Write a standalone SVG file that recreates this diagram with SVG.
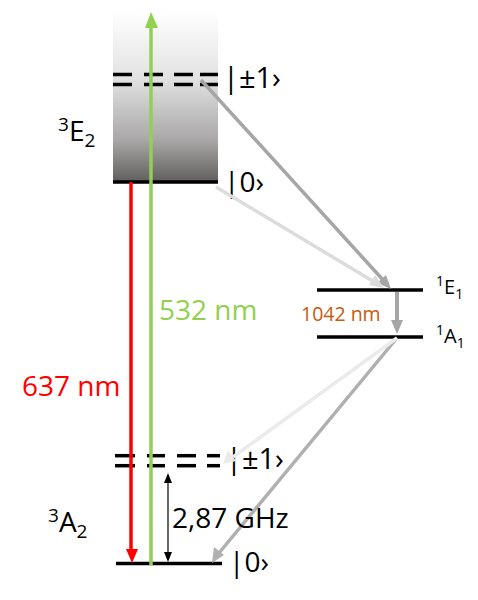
<svg xmlns="http://www.w3.org/2000/svg" width="478" height="600" viewBox="0 0 478 600">
<style>
text{font-family:"Open Sans","Liberation Sans",sans-serif;fill:#000}
.lvl{stroke:#000;stroke-width:3.5;fill:none}
.dash{stroke:#000;stroke-width:3.5}
.lbl{font-size:28px}
.big{font-size:28px}
</style>
<defs>
<linearGradient id="g" x1="0" y1="0" x2="0" y2="1">
<stop offset="0" stop-color="#ffffff"/>
<stop offset="0.4" stop-color="#e2e2e2"/>
<stop offset="0.75" stop-color="#aaa8a8"/>
<stop offset="1" stop-color="#625e5e"/>
</linearGradient>
</defs>
<rect x="113" y="10" width="105" height="172" fill="url(#g)"/>
<g id="E2-zero"><line class="lvl" x1="113" y1="182" x2="218" y2="182"/><text x="224" y="192" class="lbl">|0›</text></g>
<g id="E2-pm1">
<g class="dash"><line x1="113" y1="74.5" x2="132" y2="74.5"/><line x1="144" y1="74.5" x2="163" y2="74.5"/><line x1="174" y1="74.5" x2="193" y2="74.5"/><line x1="200" y1="74.5" x2="218" y2="74.5"/>
<line x1="113" y1="84.5" x2="132" y2="84.5"/><line x1="144" y1="84.5" x2="163" y2="84.5"/><line x1="174" y1="84.5" x2="193" y2="84.5"/><line x1="200" y1="84.5" x2="218" y2="84.5"/></g>
<text x="223" y="88" font-size="29">|±1›</text></g>
<g id="E2-label"><text x="58" y="141" class="big"><tspan font-size="19" dy="-10">3</tspan><tspan dy="10">E</tspan><tspan font-size="19" dy="6">2</tspan></text></g>
<g id="A2-pm1">
<g class="dash"><line x1="115" y1="455.7" x2="135" y2="455.7"/><line x1="147" y1="455.7" x2="165" y2="455.7"/><line x1="177" y1="455.7" x2="196" y2="455.7"/><line x1="207" y1="455.7" x2="220" y2="455.7"/>
<line x1="115" y1="465.7" x2="135" y2="465.7"/><line x1="147" y1="465.7" x2="165" y2="465.7"/><line x1="177" y1="465.7" x2="196" y2="465.7"/><line x1="207" y1="465.7" x2="220" y2="465.7"/></g>
<text x="226" y="469" font-size="29">|±1›</text></g>
<g id="A2-zero"><line class="lvl" x1="116" y1="563.5" x2="222" y2="563.5"/><text x="229" y="572" class="lbl">|0›</text></g>
<g id="A2-label"><text x="48" y="532" class="big"><tspan font-size="19" dy="-10">3</tspan><tspan dy="10">A</tspan><tspan font-size="19" dy="6">2</tspan></text></g>
<g id="E1"><line class="lvl" x1="317" y1="290" x2="423" y2="290"/><text x="436" y="294" font-size="20"><tspan font-size="14" dy="-8">1</tspan><tspan dy="8">E</tspan><tspan font-size="14" dy="5">1</tspan></text></g>
<g id="A1"><line class="lvl" x1="317" y1="337" x2="423" y2="337"/><text x="436" y="343" font-size="20"><tspan font-size="14" dy="-8">1</tspan><tspan dy="8">A</tspan><tspan font-size="14" dy="5">1</tspan></text></g>
<g id="connectors">
<line x1="201" y1="80" x2="384" y2="281" stroke="#a6a6a6" stroke-width="3.5"/>
<polygon points="391,289 377,283 386,275" fill="#a6a6a6"/>
<line x1="216" y1="187" x2="376" y2="283" stroke="#dcdcdc" stroke-width="3.5"/>
<polygon points="384,288 369,285 375,275" fill="#dcdcdc"/>
<line x1="397" y1="292" x2="397" y2="322" stroke="#a6a6a6" stroke-width="4"/>
<polygon points="397,334 391,320 403,320" fill="#a6a6a6"/>
<line x1="397" y1="338" x2="219" y2="553" stroke="#b0b0b0" stroke-width="3.5"/>
<polygon points="212,563 214,547 224,555" fill="#b0b0b0"/>
<line x1="397" y1="338" x2="233" y2="457" stroke="#ebebeb" stroke-width="3.5"/>
<polygon points="223,464 228,450 236,461" fill="#ebebeb"/>
<line x1="151" y1="565" x2="151" y2="26" stroke="#92d050" stroke-width="3.5"/>
<polygon points="151,12 145,28 158,28" fill="#92d050"/>
<line x1="131" y1="182" x2="131" y2="551" stroke="#ff0000" stroke-width="3.5"/>
<polygon points="132,563 126,549 138,549" fill="#ff0000"/>
<line x1="168" y1="482" x2="168" y2="554" stroke="#000" stroke-width="1.2"/>
<polygon points="168,473 164,483 172,483" fill="#000"/>
<polygon points="168,562 164,552 172,552" fill="#000"/>
</g>
<text x="159" y="320" font-size="28" style="fill:#92d050">532 nm</text>
<text x="22" y="396" font-size="28" style="fill:#ff0000">637 nm</text>
<text x="301" y="321" font-size="19.5" style="fill:#c55a11">1042 nm</text>
<text x="172" y="528" font-size="28">2,87 GHz</text>
</svg>
